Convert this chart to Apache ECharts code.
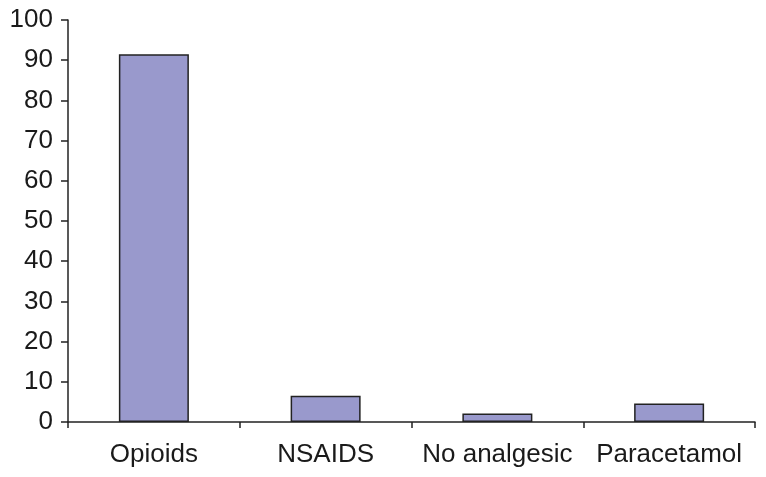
<!DOCTYPE html>
<html><head><meta charset="utf-8">
<script src="https://cdn.jsdelivr.net/npm/echarts@6/dist/echarts.min.js"></script>
<style>html,body{margin:0;padding:0;background:#fff}#c{width:766px;height:477px}</style>
</head><body><div id="c"></div>
<script>
var categories = ['Opioids', 'NSAIDS', 'No analgesic', 'Paracetamol'];
var values = [91.5, 6.5, 2.1, 4.6];
var chart = echarts.init(document.getElementById('c'), null, {renderer: 'canvas'});
chart.setOption({
  animation: false,
  grid: {left: 68, right: 11, top: 20, bottom: 55, containLabel: false},
  xAxis: {
    type: 'category', data: categories,
    axisLine: {lineStyle: {color: '#222', width: 1.5}},
    axisTick: {show: true, length: 6, alignWithLabel: false, lineStyle: {color: '#222', width: 1.5}},
    axisLabel: {color: '#1a1a1a', fontSize: 26, fontFamily: 'Liberation Sans', margin: 20, interval: 0}
  },
  yAxis: {
    type: 'value', min: 0, max: 100, interval: 10,
    splitLine: {show: false},
    axisLine: {show: true, lineStyle: {color: '#222', width: 1.5}},
    axisTick: {show: true, length: 7, lineStyle: {color: '#222', width: 1.5}},
    axisLabel: {color: '#1a1a1a', fontSize: 26, fontFamily: 'Liberation Sans', margin: 15}
  },
  series: [{
    type: 'bar', data: values, barWidth: 70,
    itemStyle: {color: '#9999CC', borderColor: '#222', borderWidth: 1.5}
  }]
});
</script></body></html>
